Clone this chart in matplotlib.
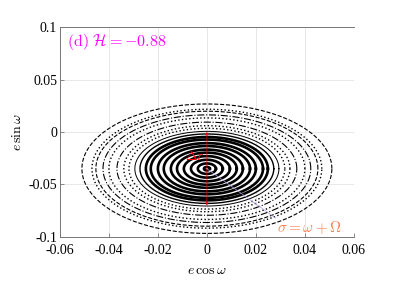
import numpy as np
import matplotlib
matplotlib.use("Agg")
import matplotlib.pyplot as plt

plt.rcParams['font.family'] = ['Liberation Serif', 'DejaVu Serif']
plt.rcParams['mathtext.fontset'] = 'cm'

# Level curves: semi-axes in (e cos w, e sin w), centre of the family
center_x = 0.0
center_y = -0.035
semi_x = [0.0012, 0.0037, 0.0065, 0.0094, 0.0122, 0.0147, 0.0176, 0.0200, 0.0229, 0.0249,
          0.0273, 0.0294, 0.0318, 0.0339, 0.0367, 0.0400, 0.0424, 0.0453, 0.0469, 0.0510]
semi_y = [0.0017, 0.0050, 0.0085, 0.0120, 0.0153, 0.0182, 0.0216, 0.0244, 0.0278, 0.0302,
          0.0331, 0.0356, 0.0385, 0.0410, 0.0444, 0.0484, 0.0513, 0.0548, 0.0567, 0.0617]
styles = ['-'] * 10 + ['-', '-', ':', ':', '-.', ':', '-.', '--', ':', '--']
widths = [1.9] * 10 + [1.0, 0.7, 1.0, 1.0, 0.8, 1.0, 0.8, 0.8, 1.0, 0.8]

xticks = [-0.06, -0.04, -0.02, 0, 0.02, 0.04, 0.06]
xticklabels = ['-0.06', '-0.04', '-0.02', '0', '0.02', '0.04', '0.06']
yticks = [-0.1, -0.05, 0, 0.05, 0.1]
yticklabels = ['-0.1', '-0.05', '0', '0.05', '0.1']

dr_top = 0.0
dr_bottom = -0.07
sigma_end = (0.028, -0.082)

fig = plt.figure(figsize=(3.99, 2.82), dpi=100)
ax = fig.add_axes([0.150, 0.160, 0.737, 0.744])

th = np.linspace(0, 2 * np.pi, 400)
for a, b, ls, lw in zip(semi_x, semi_y, styles, widths):
    ax.plot(center_x + a * np.cos(th), center_y + b * np.sin(th),
            color='black', ls=ls, lw=lw)

ax.set_xlim(-0.06, 0.06)
ax.set_ylim(-0.1, 0.1)
ax.set_xticks(xticks)
ax.set_xticklabels(xticklabels)
ax.set_yticks(yticks)
ax.set_yticklabels(yticklabels)
ax.grid(True, color='#e4e4e4', lw=0.6)
ax.set_axisbelow(True)
ax.tick_params(direction='in', length=3, width=0.6, color='#777777',
               labelsize=10, top=False, right=False)
ax.tick_params(axis='x', pad=5)
ax.tick_params(axis='y', pad=2)
for s in ['left', 'bottom', 'top']:
    ax.spines[s].set_color('#777777')
    ax.spines[s].set_linewidth(0.7)
ax.spines['right'].set_visible(False)

ax.set_xlabel(r'$e\,\cos\omega$', fontsize=10, labelpad=5)
ax.set_ylabel(r'$e\,\sin\omega$', fontsize=10, labelpad=3)

# Delta r arrow
ax.annotate('', xy=(center_x, dr_top), xytext=(center_x, dr_bottom),
            arrowprops=dict(arrowstyle='<|-|>', color='red', lw=0.45,
                            mutation_scale=4, shrinkA=0, shrinkB=0))
ax.text(-0.0008, -0.023, r'$\Delta r$', color='red', fontsize=10,
        ha='right', va='center')

# sigma line
ax.plot([center_x, sigma_end[0]], [center_y, sigma_end[1]],
        color='#b09ae0', lw=0.5)
ax.text(0.0285, -0.091, r'$\sigma=\omega+\Omega$', color='#ff7f50',
        fontsize=11, ha='left', va='center')

ax.text(-0.057, 0.086, r'$\mathrm{(d)}\ \mathcal{H}=-0.88$', color='#ff00ff',
        fontsize=11.5, ha='left', va='center')

fig.savefig('out.png', dpi=100)
